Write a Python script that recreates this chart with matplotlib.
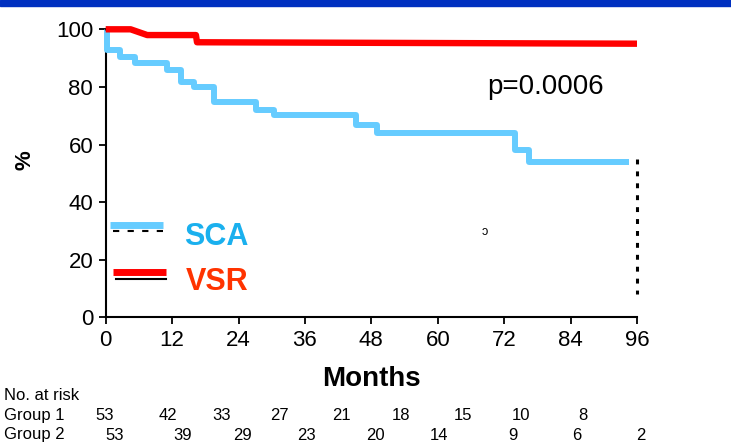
import matplotlib
matplotlib.use("Agg")
import matplotlib.pyplot as plt
from matplotlib.patches import Rectangle

plt.rcParams["font.family"] = ["Liberation Sans", "DejaVu Sans"]

# curva SCA (escalones, meses -> %)
sca_meses = [0, 0.3, 2.6, 5.3, 11.1, 13.6, 16.0, 19.6, 27.2, 30.5, 45.3, 49.0, 74.0, 76.4, 94.5]
sca_pct = [100, 92.8, 90.5, 88.2, 85.8, 81.7, 80.0, 74.8, 72.1, 70.1, 66.7, 63.9, 58.0, 54.0, 54.0]

# curva VSR
vsr_meses = [0, 4.5, 7.5, 16.3, 16.5, 96]
vsr_pct = [100, 100, 98, 98, 95.5, 95.0]

x_ticks = [0, 12, 24, 36, 48, 60, 72, 84, 96]
y_ticks = [0, 20, 40, 60, 80, 100]

# tabla de pacientes en riesgo
riesgo_g1 = [53, 42, 33, 27, 21, 18, 15, 10, 8]
riesgo_g2 = [53, 39, 29, 23, 20, 14, 9, 6, 2]
# posicion horizontal (px) de cada numero en la imagen original
pos_g1 = [105, 168, 222, 279, 341, 401, 463, 521, 583]
pos_g2 = [115, 183, 243, 306, 375, 439, 513, 577, 641]

W, H = 731, 445
fig = plt.figure(figsize=(W / 100, H / 100), dpi=100)
ax = fig.add_axes([105.7 / W, (H - 317.3) / H, (637 - 105.7) / W, (317.3 - 29.3) / H])

# franja azul superior
fig.patches.append(Rectangle((0, 1 - 6 / H), 1, 6 / H, transform=fig.transFigure,
                             color="#0030C0", zorder=0))

ax.plot(sca_meses, sca_pct, drawstyle="steps-post", color="#66CCFF", lw=4.3,
        solid_joinstyle="round", solid_capstyle="butt", clip_on=False, zorder=3)
ax.plot(vsr_meses, vsr_pct, color="#FF0000", lw=4.6,
        solid_joinstyle="round", solid_capstyle="butt", clip_on=False, zorder=4)

# linea punteada vertical en 96
ax.plot([96, 96], [55.0, 8.0], color="black", lw=2.2, dashes=(1.6, 2.3), clip_on=False)

# leyenda dibujada a mano
ax.plot([0.8, 10.4], [32.2, 32.2], color="#66CCFF", lw=5, solid_capstyle="butt", zorder=3)
ax.plot([1.3, 10.4], [29.9, 29.9], color="black", lw=1.5, dashes=(3, 4), zorder=2)
ax.plot([1.3, 10.9], [15.7, 15.7], color="#FF0000", lw=5, solid_capstyle="butt", zorder=3)
ax.plot([1.9, 10.9], [13.4, 13.4], color="black", lw=1.5, zorder=2)
ax.text(14.2, 28.0, "SCA", color="#1AB0EE", fontsize=22, fontweight="bold", va="center")
ax.text(14.5, 12.4, "VSR", color="#FF3300", fontsize=22, fontweight="bold", va="center")

ax.text(68.9, 79.9, "p=0.0006", fontsize=20, va="center")
ax.text(68.0, 29.5, "ɔ", fontsize=9, va="center")

ax.set_xlim(0, 96)
ax.set_ylim(0, 100)
ax.set_xticks(x_ticks)
ax.set_yticks(y_ticks)
ax.tick_params(direction="out", length=5, width=1.3, labelsize=16, pad=4)
for s in ["top", "right"]:
    ax.spines[s].set_visible(False)
for s in ["left", "bottom"]:
    ax.spines[s].set_linewidth(1.5)

ax.set_xlabel("Months", fontsize=20, fontweight="bold", labelpad=11)
fig.text(25 / W, 1 - 160 / H, "%", fontsize=16, fontweight="bold", rotation=90,
         ha="center", va="center")

fig.text(4 / W, 1 - 395 / H, "No. at risk", fontsize=12, va="center")
fig.text(4 / W, 1 - 415.5 / H, "Group 1", fontsize=12, va="center")
fig.text(4 / W, 1 - 435 / H, "Group 2", fontsize=12, va="center")
for n, px in zip(riesgo_g1, pos_g1):
    fig.text(px / W, 1 - 415.5 / H, str(n), fontsize=12, ha="center", va="center")
for n, px in zip(riesgo_g2, pos_g2):
    fig.text(px / W, 1 - 435 / H, str(n), fontsize=12, ha="center", va="center")

fig.savefig("out.png", dpi=100)
